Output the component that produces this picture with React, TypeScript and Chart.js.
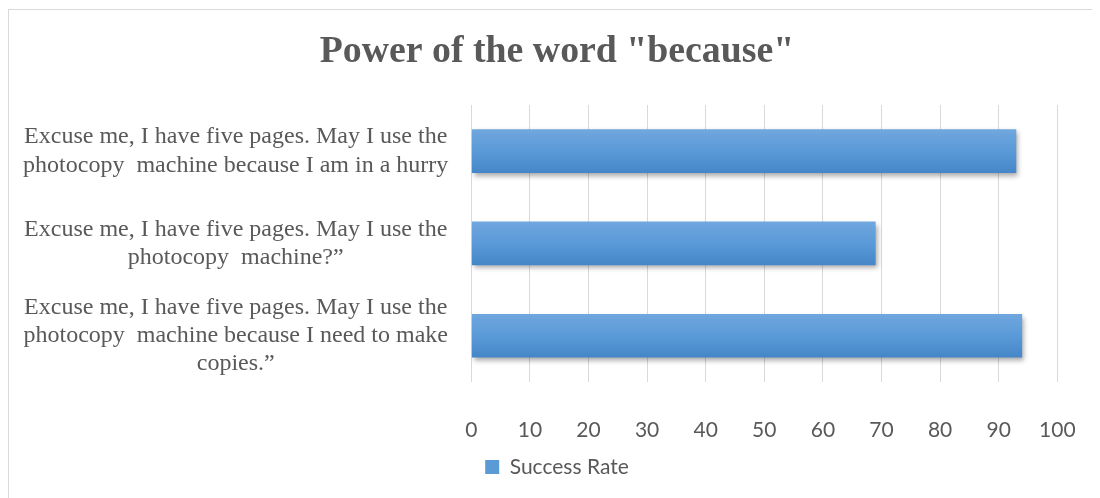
import React, { useEffect, useRef } from "react";
import { Chart, registerables } from "chart.js";
Chart.register(...registerables);

const TITLE = 'Power of the word "because"';
const SERIES_LABEL = "Success Rate";
const categories: string[][] = [
  ["Excuse me, I have five pages. May I use the", "photocopy  machine because I am in a hurry"],
  ["Excuse me, I have five pages. May I use the", "photocopy  machine?\u201d"],
  ["Excuse me, I have five pages. May I use the", "photocopy  machine because I need to make", "copies.\u201d"],
];
const successRate: number[] = [93, 69, 94];
const X_MIN = 0;
const X_MAX = 100;
const X_STEP = 10;

const BAR_FRACTION = 0.473;

export default function App() {
  const ref = useRef<HTMLCanvasElement>(null);
  useEffect(() => {
    if (!ref.current) return;
    const shadowPlugin = {
      id: "barShadow",
      beforeDatasetsDraw(chart: any) {
        const c = chart.ctx;
        c.save();
        c.shadowColor = "rgba(0,0,0,0.35)";
        c.shadowBlur = 5;
        c.shadowOffsetX = 2;
        c.shadowOffsetY = 3;
      },
      afterDatasetsDraw(chart: any) {
        chart.ctx.restore();
      },
    };
    const chart = new Chart(ref.current, {
      type: "bar",
      data: {
        labels: categories,
        datasets: [
          {
            label: SERIES_LABEL,
            data: successRate,
            backgroundColor: (c: any) => {
              const ch = c.chart;
              const ys = ch.scales && ch.scales.y;
              const area = ch.chartArea;
              if (!ys || !area || c.dataIndex == null) return "#5b9bd5";
              const center = ys.getPixelForValue(c.dataIndex);
              const half = ((area.bottom - area.top) / categories.length) * BAR_FRACTION / 2;
              const g = ch.ctx.createLinearGradient(0, center - half, 0, center + half);
              g.addColorStop(0, "#70a7de");
              g.addColorStop(0.5, "#5a9ad8");
              g.addColorStop(1, "#4586c8");
              return g;
            },
            borderWidth: 0,
            categoryPercentage: 1,
            barPercentage: BAR_FRACTION,
          },
        ],
      },
      options: {
        indexAxis: "y",
        responsive: true,
        maintainAspectRatio: false,
        animation: false,
        layout: { padding: { left: 47.7, right: 42.7, top: 0, bottom: 10.4 } },
        scales: {
          x: {
            min: X_MIN,
            max: X_MAX,
            ticks: {
              stepSize: X_STEP,
              padding: 35.5,
              color: "#595959",
              font: { family: "Lato", size: 21 },
            },
            grid: { color: "#d9d9d9", drawTicks: false, lineWidth: 1 },
            border: { display: false },
            afterFit: (s: any) => {
              s.height = 64.7;
              s.paddingLeft = 0;
              s.paddingRight = 0;
            },
          },
          y: {
            grid: { display: false, drawTicks: false },
            border: { display: false },
            ticks: {
              autoSkip: false,
              crossAlign: "center",
              padding: 23,
              color: "#595959",
              font: { family: "Liberation Serif", size: 24, lineHeight: 1.18 },
            },
            afterFit: (s: any) => {
              s.width = 414.6;
              s._computeLabelArea = () => undefined;
            },
          },
        },
        plugins: {
          title: {
            display: true,
            text: TITLE,
            color: "#595959",
            font: { family: "Liberation Serif", size: 37.8, weight: "bold", lineHeight: 1.2 },
            padding: { top: 19.3, bottom: 30.3 },
          },
          legend: {
            position: "bottom",
            labels: {
              color: "#595959",
              font: { family: "Lato", size: 21 },
              boxWidth: 14,
              boxHeight: 14,
              padding: 10,
              generateLabels: (ch: any) =>
                Chart.defaults.plugins.legend.labels.generateLabels(ch).map((l: any) => ({
                  ...l,
                  fillStyle: "#5b9bd5",
                  strokeStyle: "#5b9bd5",
                  lineWidth: 0,
                })),
            },
          },
          tooltip: { enabled: false },
        },
      } as any,
      plugins: [shadowPlugin],
    });
    return () => chart.destroy();
  }, []);
  return (
    <div
      style={{
        marginTop: 1,
        width: 1092,
        height: 489,
        borderTop: "1px solid #d9d9d9",
        borderLeft: "1px solid #d9d9d9",
        boxSizing: "border-box",
        position: "relative",
      }}
    >
      <canvas ref={ref} />
    </div>
  );
}
